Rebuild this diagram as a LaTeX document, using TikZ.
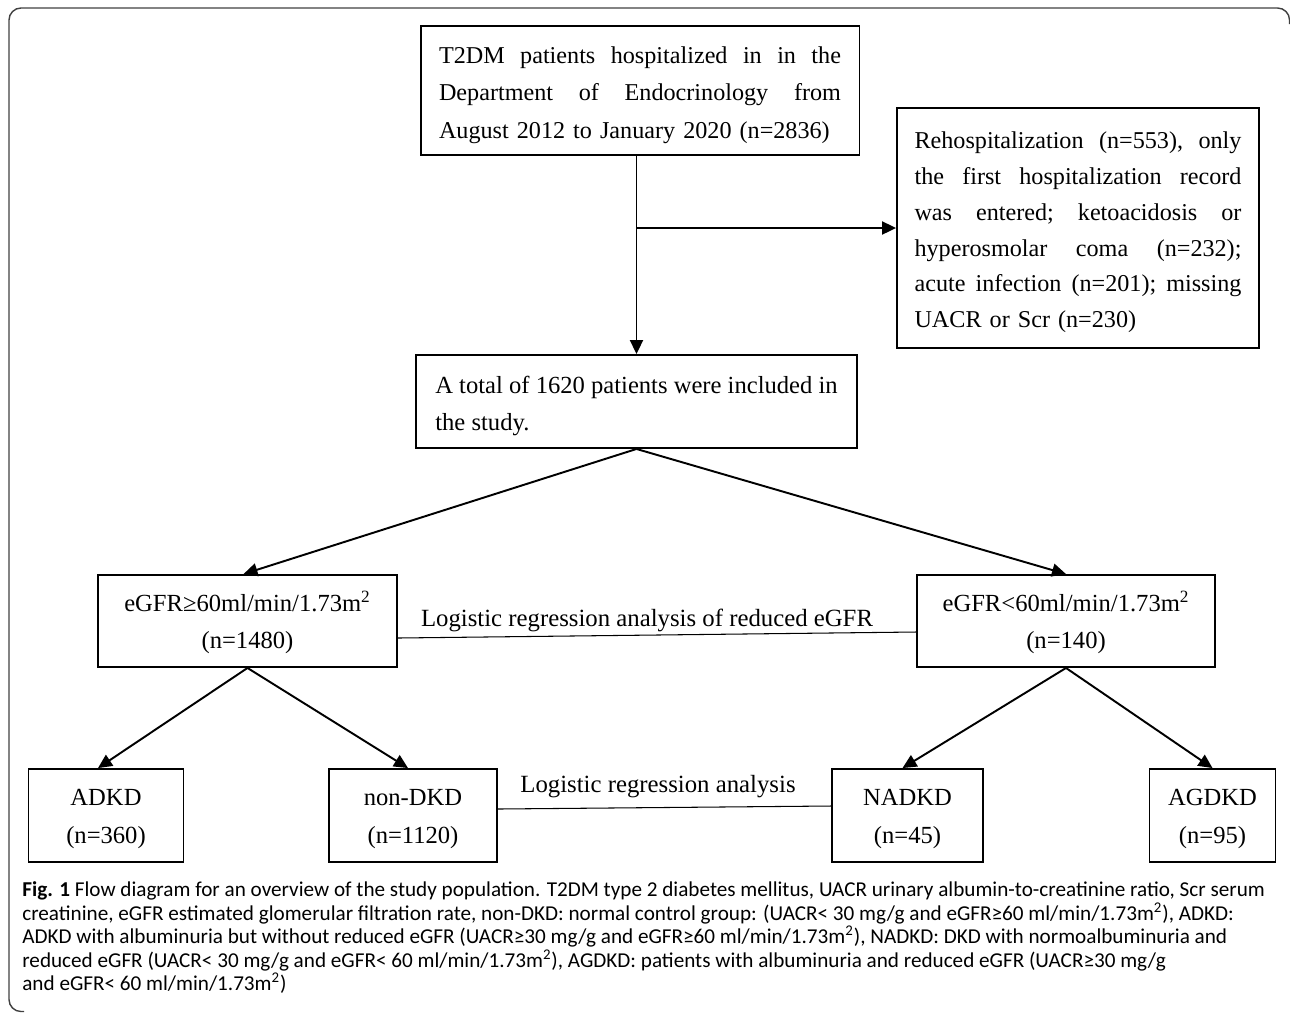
\documentclass[tikz,border=0pt]{standalone}
\usepackage{fontspec}
\setmainfont{Liberation Serif}
\newfontfamily\capfont{Carlito}
\usetikzlibrary{arrows.meta,calc}
\newcommand{\jl}[2]{\leavevmode\hbox to #1{\frenchspacing\spaceskip=0.25em plus 1fil\relax #2}}
\begin{document}
\begin{tikzpicture}[x=0.02cm,y=-0.02cm,
  box/.style={draw, line width=1.1pt, inner sep=0pt},
  arr/.style={line width=1.1pt, -{Triangle[length=0.28cm,width=0.26cm]}},
  thinln/.style={line width=0.6pt},
  lbl/.style={inner sep=0pt, font=\fontsize{14.1}{16}\selectfont},
  captxt/.style={anchor=base west, inner sep=0pt, font=\capfont\fontsize{12.05}{13}\selectfont},
  frameln/.style={draw=black!75, line width=0.8pt, rounded corners=0.24cm}]
\useasboundingbox (0,0) rectangle (1290,1012);
\draw[frameln] (24,1011.5) -- (9,1011.5) -- (9,8) -- (1289.5,8) -- (1289.5,24);

\node[box, minimum width=8.78cm, minimum height=2.58cm, text width=8.04cm, align=left,
  font=\fontsize{13.75}{21.3}\selectfont] (top) at (640,90.5)
  {\jl{8.04cm}{\rule{0pt}{14.5pt}T2DM patients hospitalized in in the}\\
   \jl{8.04cm}{Department of Endocrinology from}\\
   August 2012 to January 2020 (n=2836)};

\node[box, minimum width=7.24cm, minimum height=4.8cm, text width=6.54cm, align=left,
  font=\fontsize{13.75}{20.4}\selectfont] (ex) at (1078,228)
  {\jl{6.54cm}{\rule{0pt}{14.5pt}Rehospitalization (n=553), only}\\
   \jl{6.54cm}{the first hospitalization record}\\
   \jl{6.54cm}{was entered; ketoacidosis or}\\
   \jl{6.54cm}{hyperosmolar coma (n=232);}\\
   \jl{6.54cm}{acute infection (n=201); missing}\\
   UACR or Scr (n=230)};

\node[box, minimum width=8.82cm, minimum height=1.86cm, align=left,
  font=\fontsize{14}{21}\selectfont] (mid) at (636.5,401.5)
  {\rule{0pt}{14.5pt}A total of 1620 patients were included in\\ the study.};

\node[box, minimum width=5.98cm, minimum height=1.84cm, align=center,
  font=\fontsize{14}{20.9}\selectfont] (eL) at (247.5,621)
  {\rule{0pt}{13.5pt}eGFR≥60ml/min/1.73m\textsuperscript{2}\\ (n=1480)};
\node[box, minimum width=5.96cm, minimum height=1.84cm, align=center,
  font=\fontsize{14}{20.9}\selectfont] (eR) at (1066,621)
  {\rule{0pt}{13.5pt}eGFR<60ml/min/1.73m\textsuperscript{2}\\ (n=140)};

\node[box, minimum width=3.1cm, minimum height=1.86cm, align=center,
  font=\fontsize{14}{21.5}\selectfont] (adkd) at (106,815.5) {\rule{0pt}{13pt}ADKD\\ (n=360)};
\node[box, minimum width=3.36cm, minimum height=1.86cm, align=center,
  font=\fontsize{14}{21.5}\selectfont] (non) at (413,815.5) {\rule{0pt}{13pt}non-DKD\\ (n=1120)};
\node[box, minimum width=3.02cm, minimum height=1.86cm, align=center,
  font=\fontsize{14}{21.5}\selectfont] (nadkd) at (907.5,815.5) {\rule{0pt}{13pt}NADKD\\ (n=45)};
\node[box, minimum width=2.52cm, minimum height=1.86cm, align=center,
  font=\fontsize{14}{21.5}\selectfont] (agdkd) at (1212.5,815.5) {\rule{0pt}{13pt}AGDKD\\ (n=95)};

% connectors
\coordinate (br) at (mid.north |- 0,228);
\draw[line width=1.1pt] (mid.north |- top.south) -- (br);
\draw[arr] (br) -- (mid.north);
\draw[arr] (br) -- (ex.west);

\draw[arr] (mid.south) -- ($(eL.north)+(-4,0)$);
\draw[arr] (mid.south) -- (eR.north);

\draw[arr] (eL.south) -- ($(adkd.north)+(-8,0)$);
\draw[arr] (eL.south) -- ($(non.north)+(-5,0)$);
\draw[arr] (eR.south) -- ($(nadkd.north)+(-5,0)$);
\draw[arr] (eR.south) -- (agdkd.north);

\draw[thinln] ($(eL.east)+(0,17)$) -- ($(eR.west)+(0,11)$);
\node[lbl] (lr1) at (647,620) {Logistic regression analysis of reduced eGFR};
\draw[thinln] ($(non.east)+(0,-6.5)$) -- ($(nadkd.west)+(0,-9.5)$);
\node[lbl] (lr2) at (658,787) {Logistic regression analysis};

% caption
\node[captxt] (c1) at (22,896.5) {\textbf{Fig. 1} Flow diagram for an overview of the study population. T2DM type 2 diabetes mellitus, UACR urinary albumin-to-creatinine ratio, Scr serum};
\node[captxt] (c2) at (22,920) {creatinine, eGFR estimated glomerular filtration rate, non-DKD: normal control group: (UACR< 30 mg/g and eGFR≥60 ml/min/1.73m\textsuperscript{2}), ADKD:};
\node[captxt] (c3) at (22,943.5) {ADKD with albuminuria but without reduced eGFR (UACR≥30 mg/g and eGFR≥60 ml/min/1.73m\textsuperscript{2}), NADKD: DKD with normoalbuminuria and};
\node[captxt] (c4) at (22,967) {reduced eGFR (UACR< 30 mg/g and eGFR< 60 ml/min/1.73m\textsuperscript{2}), AGDKD: patients with albuminuria and reduced eGFR (UACR≥30 mg/g};
\node[captxt] (c5) at (22,990.5) {and eGFR< 60 ml/min/1.73m\textsuperscript{2})};
\end{tikzpicture}
\end{document}
